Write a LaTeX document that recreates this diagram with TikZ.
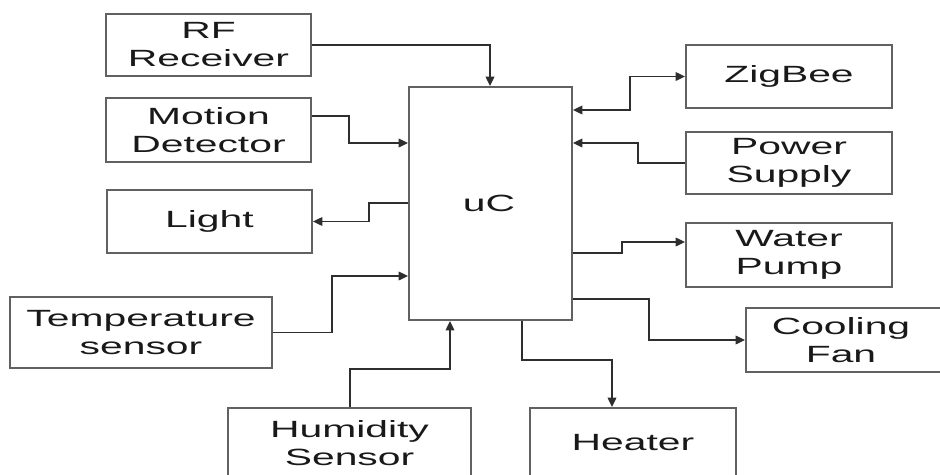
\documentclass[tikz,border=0pt]{standalone}
\usepackage{fontspec}
\setmainfont{Liberation Sans}[FakeStretch=1.74]
\usetikzlibrary{arrows.meta}

\tikzset{
  blk/.style={draw=black!62, line width=1.5pt, inner sep=0pt, align=center,
              font=\fontsize{17.6}{21}\selectfont, text=black!90},
  sz/.style 2 args={minimum width=#1*0.75pt, minimum height=#2*0.75pt},
  lbl/.style={inner sep=0pt, align=center,
              font=\fontsize{17.6}{21}\selectfont, text=black!90},
  conn/.style={draw=black!82, line width=1pt,
               -{Triangle[length=7pt,width=6.5pt]}},
  bidir/.style={draw=black!82, line width=1pt,
               {Triangle[length=7pt,width=6.5pt]}-{Triangle[length=7pt,width=6.5pt]}}
}

\begin{document}
\begin{tikzpicture}[x=0.75pt,y=-0.75pt]
  \clip (0,0) rectangle (940,475);

  % microcontroller
  \node[blk, sz={163}{233}] (uc) at (490.5,203.5) {};
  \node[lbl] (uctext) at (489,203) {uC};

  % left-hand blocks
  \node[blk, sz={205}{62}] (rf)    at (208.5,45)  {RF\\Receiver};
  \node[blk, sz={205}{64}] (md)    at (208.5,130) {Motion\\Detector};
  \node[blk, sz={205}{63}] (light) at (209.5,221.5) {Light};
  \node[blk, sz={262}{71}] (temp)  at (141,332.5) {Temperature\\sensor};

  % bottom blocks
  \node[blk, sz={243}{70}] (hum)    at (349.5,443) {Humidity\\Sensor};
  \node[blk, sz={206}{70}] (heater) at (633,443)   {Heater};

  % right-hand blocks
  \node[blk, sz={206}{63}] (zig) at (789,76.5)  {ZigBee};
  \node[blk, sz={206}{62}] (ps)  at (789,163)   {Power\\Supply};
  \node[blk, sz={206}{64}] (wp)  at (789,255)   {Water\\Pump};
  \node[blk, sz={206}{64}] (fan) at (849,340)   {};
  \node[lbl] (fantext) at (841,340) {Cooling\\Fan};

  % inputs
  \draw[conn] (rf.east) -| (uc.north -| 490,0);
  \draw[conn] (md.east |- 0,116) -- (349,116) |- (uc.west |- 0,143);
  \draw[conn] (temp.east) -- (332,332.5) |- (uc.west |- 0,276);
  \draw[conn] (hum.north -| 350,0) -- (350,369) -| (uc.south -| 450,0);
  \draw[conn] (ps.west) -- (638,163) |- (uc.east |- 0,143);

  % outputs
  \draw[conn] (uc.west |- 0,203) -- (369,203) |- (light.east);
  \draw[conn] (uc.south -| 522,0) -- (522,360) -| (heater.north -| 612,0);
  \draw[conn] (uc.east |- 0,253) -- (622,253) |- (wp.west |- 0,242);
  \draw[conn] (uc.east |- 0,299) -- (649,299) |- (fan.west);

  % two-way link
  \draw[bidir] (uc.east |- 0,110) -- (630,110) |- (zig.west);
\end{tikzpicture}
\end{document}
